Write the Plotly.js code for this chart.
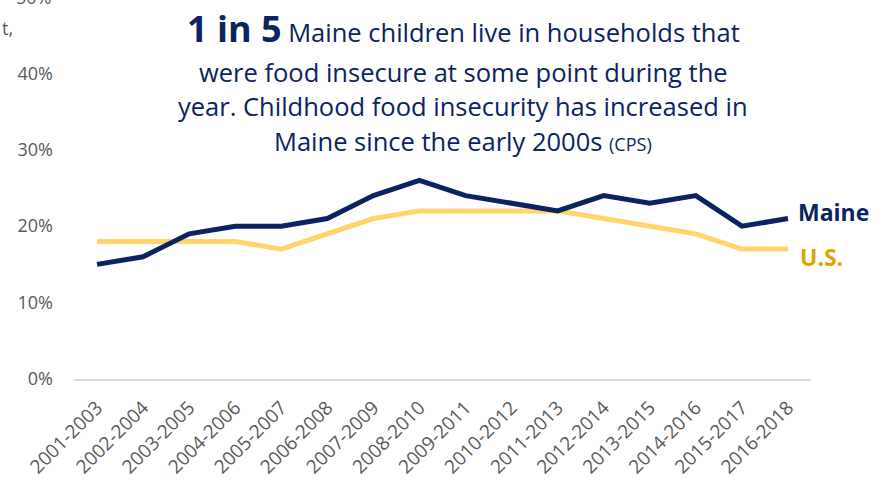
<!DOCTYPE html>
<html>
<head>
<meta charset="utf-8">
<script src="https://cdn.plot.ly/plotly-3.0.1.min.js"></script>
<style>html,body{margin:0;padding:0;background:#fff;}#chart{width:885px;height:485px;}</style>
</head>
<body>
<div id="chart"></div>
<script>
const periods = ["2001-2003","2002-2004","2003-2005","2004-2006","2005-2007","2006-2008","2007-2009","2008-2010","2009-2011","2010-2012","2011-2013","2012-2014","2013-2015","2014-2016","2015-2017","2016-2018"];
const maine = [15,16,19,20,20,21,24,26,24,23,22,24,23,24,20,21];
const us = [18,18,18,18,17,19,21,22,22,22,22,21,20,19,17,17];
const yTicks = [0,10,20,30,40];

const navy = "#0B2360";
const gold = "#FFD46B";
const goldText = "#E0A400";
const fontFam = "'Open Sans', sans-serif";
const yTop = 49.6;

const data = [
  {x: periods, y: us, type: "scatter", mode: "lines", name: "U.S.",
   line: {color: gold, width: 5}, hoverinfo: "skip"},
  {x: periods, y: maine, type: "scatter", mode: "lines", name: "Maine",
   line: {color: navy, width: 5}, hoverinfo: "skip"}
];

const ann = (text, y) => ({xref: "paper", yref: "paper", x: 0.528, y: y, xanchor: "center", yanchor: "middle",
  text: text, showarrow: false, font: {family: fontFam, size: 25.5, color: navy}});

const layout = {
  width: 885, height: 485,
  margin: {l: 74, r: 74, t: 0, b: 106},
  paper_bgcolor: "#fff", plot_bgcolor: "#fff",
  showlegend: false,
  font: {family: fontFam, color: "#595959"},
  xaxis: {type: "category", range: [-0.5, periods.length - 0.5], tickangle: -45,
    tickfont: {size: 19, color: "#595959"}, ticklabelstandoff: 8,
    showgrid: false, zeroline: false, showline: true, linecolor: "#D9D9D9", linewidth: 2,
    ticks: "", fixedrange: true},
  yaxis: {range: [0, yTop], tickvals: yTicks, ticktext: yTicks.map(v => v + "%"),
    tickfont: {size: 18, color: "#595959"}, showgrid: false, zeroline: false, showline: false,
    ticks: "", ticklabelstandoff: 20, fixedrange: true},
  annotations: [
    {xref: "paper", yref: "paper", x: 0, y: 50 / yTop, xanchor: "right", yanchor: "middle", xshift: -21,
     text: "50%", showarrow: false, font: {family: fontFam, size: 18, color: "#595959"}},
    {xref: "paper", yref: "paper", x: -0.1, y: (379-28)/379, xanchor: "left", yanchor: "middle",
     text: "t,", showarrow: false, font: {family: fontFam, size: 18, color: "#595959"}},
    ann("<b style='font-size:36px'>1 in 5</b> Maine children live in households that", (379-29)/379),
    ann("were food insecure at some point during the", (379-72)/379),
    ann("year. Childhood food insecurity has increased in", (379-106)/379),
    ann("Maine since the early 2000s <span style='font-size:18px'>(CPS)</span>", (379-141)/379),
    {x: periods[periods.length-1], y: maine[maine.length-1], xref: "x", yref: "y", xanchor: "left", yanchor: "middle",
     xshift: 8, yshift: 7, text: "<b>Maine</b>", showarrow: false, font: {family: fontFam, size: 23, color: navy}},
    {x: periods[periods.length-1], y: us[us.length-1], xref: "x", yref: "y", xanchor: "left", yanchor: "middle",
     xshift: 10, yshift: -8, text: "<b>U.S.</b>", showarrow: false, font: {family: fontFam, size: 23, color: goldText}}
  ]
};

Plotly.newPlot("chart", data, layout, {displayModeBar: false, staticPlot: true});
</script>
</body>
</html>
